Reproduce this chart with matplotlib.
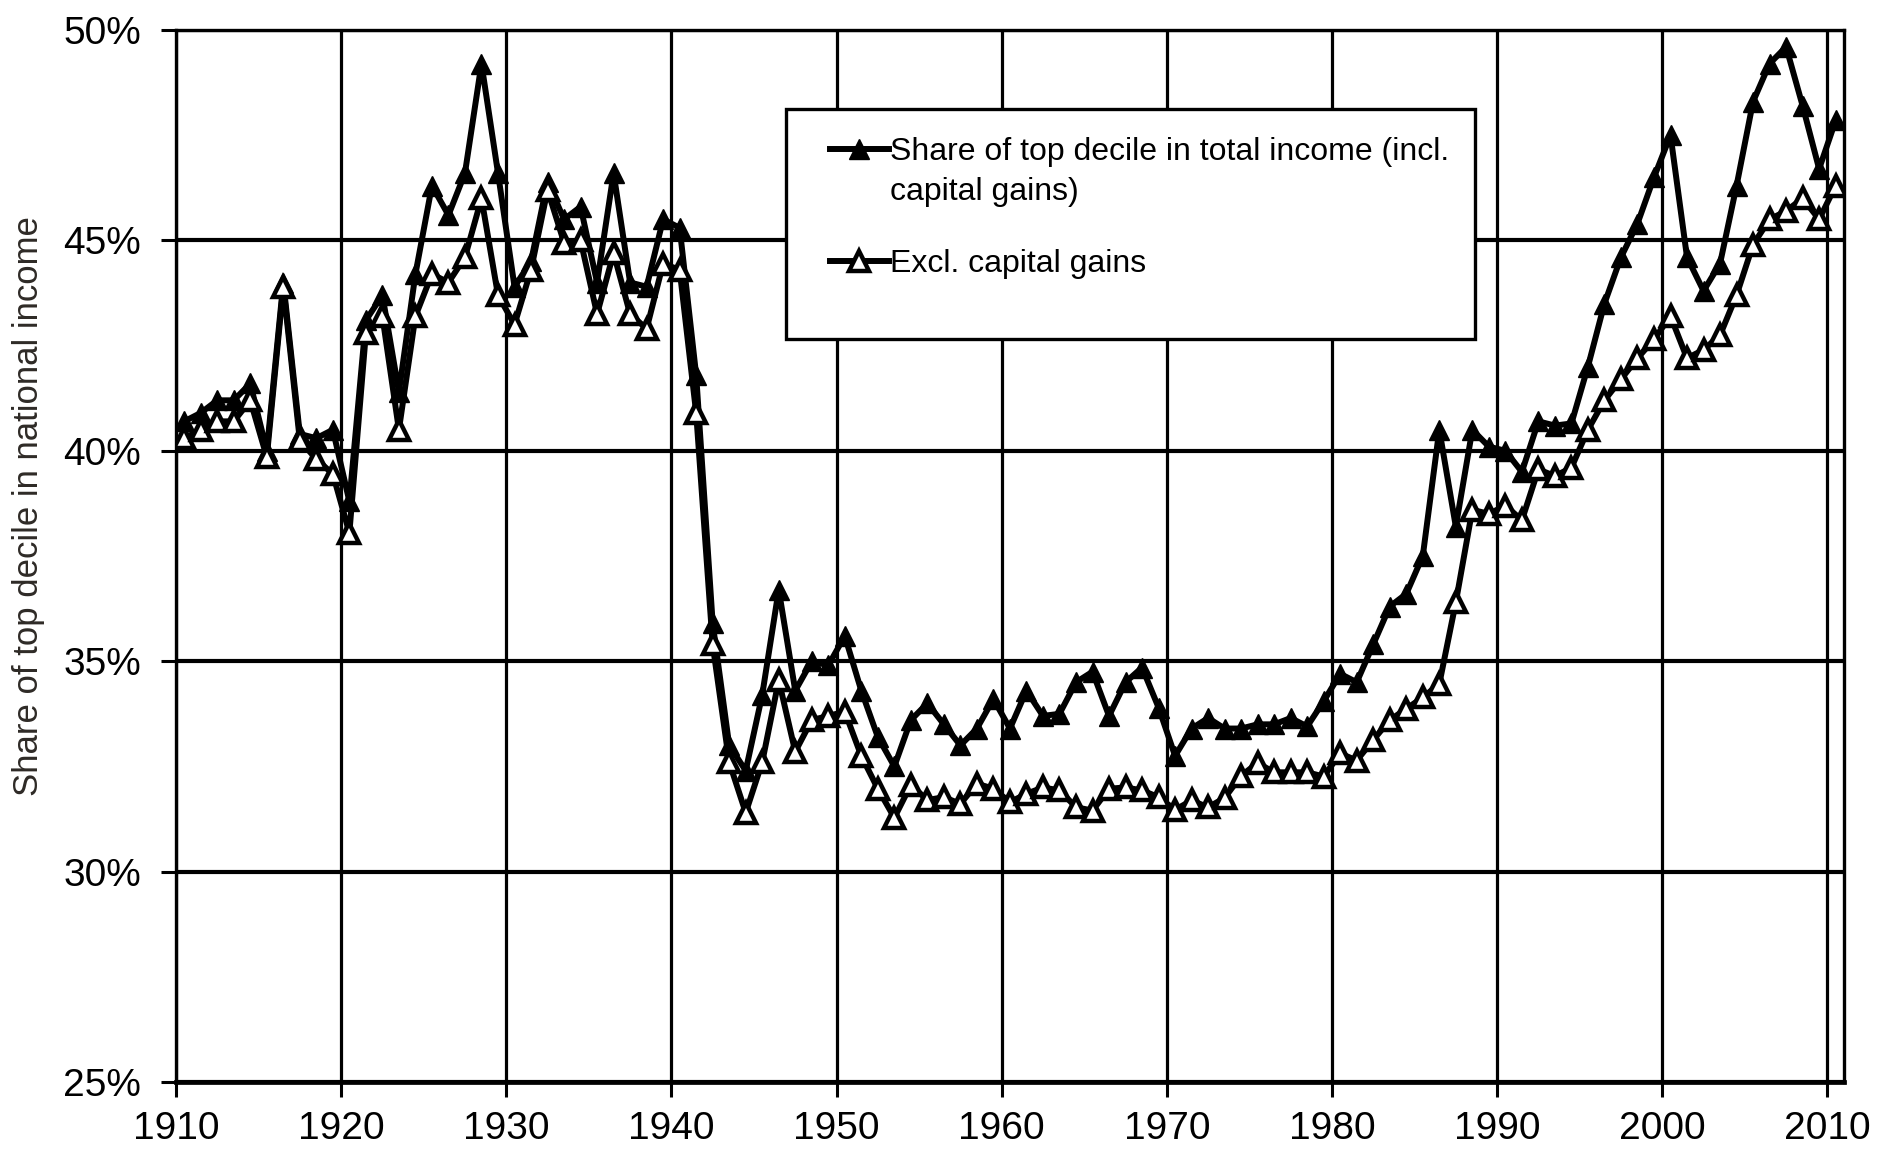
import matplotlib
matplotlib.use("Agg")
import matplotlib.pyplot as plt
import numpy as np
from matplotlib.patches import Rectangle
from matplotlib.ticker import PercentFormatter

plt.rcParams['font.family'] = ['Liberation Sans', 'DejaVu Sans']

lata = np.arange(1910, 2011)

# udzial gornego decyla, z zyskami kapitalowymi
z_zyskami = [
    40.7, 40.9, 41.2, 41.2, 41.6, 40.0, 44.0, 40.4, 40.3, 40.5,
    38.8, 43.1, 43.7, 41.4, 44.2, 46.3, 45.6, 46.6, 49.2, 46.6,
    43.9, 44.5, 46.4, 45.5, 45.8, 44.0, 46.6, 44.0, 43.9, 45.5,
    45.3, 41.8, 35.9, 33.0, 32.4, 34.2, 36.7, 34.3, 35.0, 34.9,
    35.6, 34.3, 33.2, 32.5, 33.6, 34.0, 33.5, 33.0, 33.4, 34.1,
    33.4, 34.3, 33.7, 33.75, 34.5, 34.75, 33.7, 34.5, 34.85, 33.9,
    32.75, 33.4, 33.65, 33.4, 33.4, 33.5, 33.5, 33.65, 33.45, 34.05,
    34.7, 34.5, 35.4, 36.3, 36.6, 37.5, 40.5, 38.2, 40.5, 40.1,
    40.0, 39.5, 40.7, 40.6, 40.65, 42.0, 43.5, 44.6, 45.4, 46.5,
    47.5, 44.6, 43.8, 44.45, 46.3, 48.3, 49.2, 49.6, 48.2, 46.7,
    47.85,
]

# bez zyskow kapitalowych
bez_zyskow = [
    40.3, 40.5, 40.7, 40.7, 41.2, 39.85, 43.9, 40.25, 39.8, 39.45,
    38.05, 42.8, 43.2, 40.5, 43.2, 44.2, 44.0, 44.6, 46.0, 43.7,
    43.0, 44.3, 46.2, 44.95, 45.0, 43.25, 44.7, 43.25, 42.9, 44.45,
    44.3, 40.9, 35.4, 32.6, 31.4, 32.6, 34.55, 32.85, 33.6, 33.7,
    33.8, 32.75, 31.97, 31.28, 32.06, 31.7, 31.77, 31.61, 32.09, 31.97,
    31.65, 31.85, 32.0, 31.93, 31.53, 31.45, 31.97, 32.0, 31.93, 31.77,
    31.47, 31.69, 31.53, 31.75, 32.28, 32.58, 32.36, 32.36, 32.36, 32.26,
    32.81, 32.64, 33.13, 33.6, 33.87, 34.14, 34.46, 36.4, 38.6, 38.5,
    38.7, 38.35, 39.56, 39.4, 39.6, 40.5, 41.2, 41.7, 42.2, 42.65,
    43.2, 42.2, 42.4, 42.75, 43.7, 44.9, 45.5, 45.7, 46.0, 45.5,
    46.3,
]

etykiety = ['Share of top decile in total income (incl.', 'Excl. capital gains']
etykieta_ciag = 'capital gains)'

fig = plt.figure(figsize=(18.8, 11.55), dpi=100)
ax = fig.add_axes([0.0936, 0.0632, 0.8872, 0.9108])

# punkty w srodku kategorii (jak w excelu)
x = lata + 0.5
ax.plot(x, z_zyskami, color='black', lw=4.3, marker='^', markersize=14,
        markerfacecolor='black', markeredgecolor='black', label=etykiety[0], zorder=3)
ax.plot(x, bez_zyskow, color='black', lw=4.3, marker='^', markersize=14,
        markerfacecolor='white', markeredgecolor='black', markeredgewidth=3.2,
        label=etykiety[1], zorder=4)

ax.set_xlim(1910, 2011)
ax.set_ylim(25, 50)
ax.set_xticks(np.arange(1910, 2011, 10))
ax.set_yticks(np.arange(25, 51, 5))
ax.yaxis.set_major_formatter(PercentFormatter(decimals=0))

ax.set_axisbelow(True)
ax.xaxis.grid(True, color='black', lw=2.3)
ax.yaxis.grid(True, color='black', lw=3.0)

for s in ax.spines.values():
    s.set_linewidth(2.4)
ax.spines['bottom'].set_linewidth(3.4)

ax.tick_params(axis='both', direction='out', length=11, width=2.2,
               labelsize=28, colors='black')
ax.tick_params(axis='x', pad=10)
ax.tick_params(axis='y', pad=14)

fig.text(29 / 1880, 1 - 506 / 1155, 'Share of top decile in national income',
         rotation=90, ha='center', va='center', fontsize=25, color='#2e2a26')

# ramka legendy
ramka = Rectangle((0.3657, 0.7063), 0.4131, 0.2186, transform=ax.transAxes,
                  facecolor='white', edgecolor='black', lw=2.4, zorder=5)
ax.add_patch(ramka)
leg = ax.legend(loc='upper left', bbox_to_anchor=(0.392, 0.898), frameon=False,
                fontsize=23, borderpad=0, borderaxespad=0, handlelength=1.85,
                handletextpad=0.05, labelspacing=2.55, numpoints=1)
leg.set_zorder(6)

# druga linijka pierwszej etykiety pod spodem
fig.canvas.draw()
bb = leg.get_texts()[0].get_window_extent()
fw, fh = fig.bbox.width, fig.bbox.height
fig.text(bb.x0 / fw, ((bb.y0 + bb.y1) / 2 - 40) / fh, etykieta_ciag,
         ha='left', va='center', fontsize=23, zorder=7)

fig.savefig('out.png', dpi=100)
